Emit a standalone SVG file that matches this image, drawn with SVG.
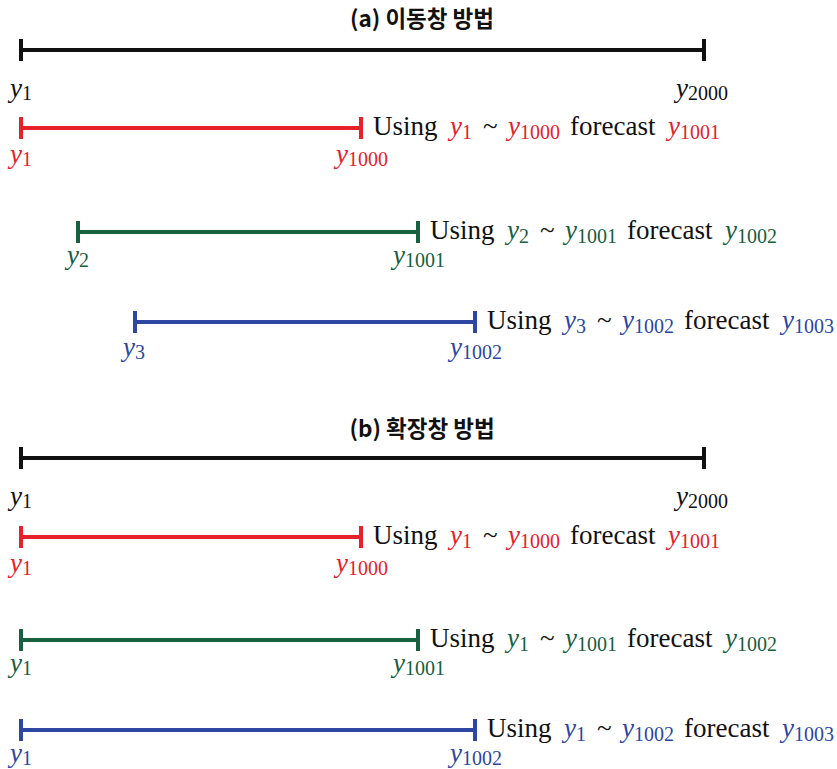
<svg xmlns="http://www.w3.org/2000/svg" width="837" height="769" viewBox="0 0 837 769">
<style>
text{font-family:"Liberation Serif","DejaVu Serif",serif;font-size:27px;fill:#111}
.title{font-family:"Noto Sans CJK KR","Noto Sans",sans-serif;font-weight:bold;font-size:22.5px;text-anchor:middle}
.i{font-style:italic}
.s{font-size:20px}
.k{stroke:#111}.r{stroke:#e62129}.g{stroke:#176040}.b{stroke:#2d47a3}
.kf{fill:#111}.rf{fill:#e62129}.gf{fill:#176040}.bf{fill:#2d47a3}
line{stroke-width:4;fill:none}
</style>
<text class="title" x="422" y="27">(a) 이동창 방법</text>
<text class="title" x="422" y="437">(b) 확장창 방법</text>
<g id="connectors">
<g id="a-full"><line class="k" x1="21" y1="50" x2="704" y2="50"/><line class="k" x1="21" y1="39" x2="21" y2="61"/><line class="k" x1="704" y1="39" x2="704" y2="61"/></g>
<g id="a-r"><line class="r" x1="21" y1="128" x2="361" y2="128"/><line class="r" x1="21" y1="117" x2="21" y2="139"/><line class="r" x1="361" y1="117" x2="361" y2="139"/></g>
<g id="a-g"><line class="g" x1="78" y1="232" x2="418" y2="232"/><line class="g" x1="78" y1="221" x2="78" y2="243"/><line class="g" x1="418" y1="221" x2="418" y2="243"/></g>
<g id="a-b"><line class="b" x1="135" y1="322" x2="475" y2="322"/><line class="b" x1="135" y1="311" x2="135" y2="333"/><line class="b" x1="475" y1="311" x2="475" y2="333"/></g>
<g id="b-full"><line class="k" x1="21" y1="458" x2="704" y2="458"/><line class="k" x1="21" y1="447" x2="21" y2="469"/><line class="k" x1="704" y1="447" x2="704" y2="469"/></g>
<g id="b-r"><line class="r" x1="21" y1="537" x2="361" y2="537"/><line class="r" x1="21" y1="526" x2="21" y2="548"/><line class="r" x1="361" y1="526" x2="361" y2="548"/></g>
<g id="b-g"><line class="g" x1="21" y1="640" x2="418" y2="640"/><line class="g" x1="21" y1="629" x2="21" y2="651"/><line class="g" x1="418" y1="629" x2="418" y2="651"/></g>
<g id="b-b"><line class="b" x1="21" y1="730" x2="475" y2="730"/><line class="b" x1="21" y1="719" x2="21" y2="741"/><line class="b" x1="475" y1="719" x2="475" y2="741"/></g>
</g>
<g id="a-labels">
<text x="10" y="97" class="kf"><tspan class="i">y</tspan><tspan class="s" dy="3">1</tspan></text>
<text x="676" y="97" class="kf"><tspan class="i">y</tspan><tspan class="s" dy="3">2000</tspan></text>
<text x="10" y="163" class="rf"><tspan class="i">y</tspan><tspan class="s" dy="3">1</tspan></text>
<text x="336" y="163" class="rf"><tspan class="i">y</tspan><tspan class="s" dy="3">1000</tspan></text>
<text y="135"><tspan x="373">Using</tspan><tspan x="450" class="i rf">y</tspan><tspan class="s rf" dy="4">1</tspan><tspan x="483" dy="-4">~</tspan><tspan x="508" class="i rf">y</tspan><tspan class="s rf" dy="4">1000</tspan><tspan x="570" dy="-4">forecast</tspan><tspan x="668" class="i rf">y</tspan><tspan class="s rf" dy="4">1001</tspan></text>
<text x="67" y="264" class="gf"><tspan class="i">y</tspan><tspan class="s" dy="3">2</tspan></text>
<text x="393" y="264" class="gf"><tspan class="i">y</tspan><tspan class="s" dy="3">1001</tspan></text>
<text y="239"><tspan x="430">Using</tspan><tspan x="507" class="i gf">y</tspan><tspan class="s gf" dy="4">2</tspan><tspan x="540" dy="-4">~</tspan><tspan x="565" class="i gf">y</tspan><tspan class="s gf" dy="4">1001</tspan><tspan x="627" dy="-4">forecast</tspan><tspan x="725" class="i gf">y</tspan><tspan class="s gf" dy="4">1002</tspan></text>
<text x="123" y="356" class="bf"><tspan class="i">y</tspan><tspan class="s" dy="3">3</tspan></text>
<text x="450" y="356" class="bf"><tspan class="i">y</tspan><tspan class="s" dy="3">1002</tspan></text>
<text y="329"><tspan x="487">Using</tspan><tspan x="564" class="i bf">y</tspan><tspan class="s bf" dy="4">3</tspan><tspan x="597" dy="-4">~</tspan><tspan x="622" class="i bf">y</tspan><tspan class="s bf" dy="4">1002</tspan><tspan x="684" dy="-4">forecast</tspan><tspan x="782" class="i bf">y</tspan><tspan class="s bf" dy="4">1003</tspan></text>
</g>
<g id="b-labels">
<text x="10" y="505" class="kf"><tspan class="i">y</tspan><tspan class="s" dy="3">1</tspan></text>
<text x="676" y="505" class="kf"><tspan class="i">y</tspan><tspan class="s" dy="3">2000</tspan></text>
<text x="10" y="572" class="rf"><tspan class="i">y</tspan><tspan class="s" dy="3">1</tspan></text>
<text x="336" y="572" class="rf"><tspan class="i">y</tspan><tspan class="s" dy="3">1000</tspan></text>
<text y="544"><tspan x="373">Using</tspan><tspan x="450" class="i rf">y</tspan><tspan class="s rf" dy="4">1</tspan><tspan x="483" dy="-4">~</tspan><tspan x="508" class="i rf">y</tspan><tspan class="s rf" dy="4">1000</tspan><tspan x="570" dy="-4">forecast</tspan><tspan x="668" class="i rf">y</tspan><tspan class="s rf" dy="4">1001</tspan></text>
<text x="10" y="672" class="gf"><tspan class="i">y</tspan><tspan class="s" dy="3">1</tspan></text>
<text x="393" y="672" class="gf"><tspan class="i">y</tspan><tspan class="s" dy="3">1001</tspan></text>
<text y="647"><tspan x="430">Using</tspan><tspan x="507" class="i gf">y</tspan><tspan class="s gf" dy="4">1</tspan><tspan x="540" dy="-4">~</tspan><tspan x="565" class="i gf">y</tspan><tspan class="s gf" dy="4">1001</tspan><tspan x="627" dy="-4">forecast</tspan><tspan x="725" class="i gf">y</tspan><tspan class="s gf" dy="4">1002</tspan></text>
<text x="10" y="762" class="bf"><tspan class="i">y</tspan><tspan class="s" dy="3">1</tspan></text>
<text x="450" y="762" class="bf"><tspan class="i">y</tspan><tspan class="s" dy="3">1002</tspan></text>
<text y="737"><tspan x="487">Using</tspan><tspan x="564" class="i bf">y</tspan><tspan class="s bf" dy="4">1</tspan><tspan x="597" dy="-4">~</tspan><tspan x="622" class="i bf">y</tspan><tspan class="s bf" dy="4">1002</tspan><tspan x="684" dy="-4">forecast</tspan><tspan x="782" class="i bf">y</tspan><tspan class="s bf" dy="4">1003</tspan></text>
</g>
</svg>
